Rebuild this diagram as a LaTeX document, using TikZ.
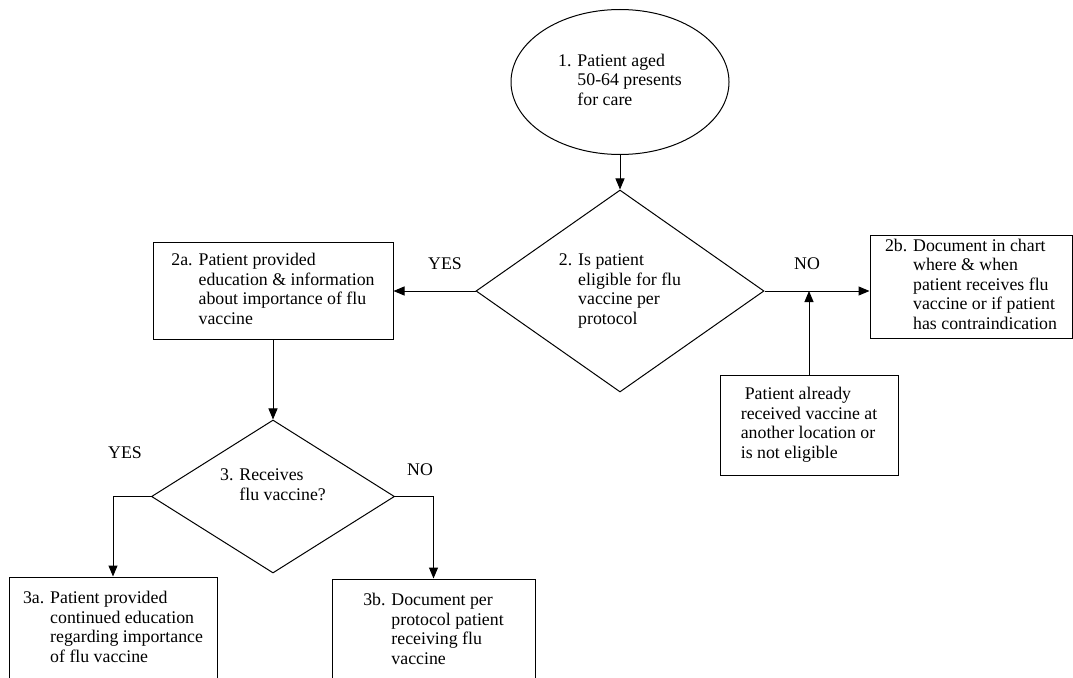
\documentclass[tikz,border=0pt]{standalone}
\usepackage{fontspec}
\setmainfont{Liberation Serif}
\usetikzlibrary{arrows.meta, shapes.geometric}

% numbered text: number in its own column, hanging lines after it
\newcommand{\numbered}[2]{\begin{tabular}{@{}l@{ }l@{}}#1&\begin{tabular}[t]{@{}l@{}}#2\end{tabular}\end{tabular}}

\begin{document}
\begin{tikzpicture}[
            x=1pt, y=-1pt,
            font=\fontsize{17.8}{19.5}\selectfont,
            every node/.style={inner sep=0pt},
            box/.style={draw, line width=1pt, rectangle, align=center},
            start/.style={draw, line width=1pt, ellipse, minimum width=218pt, minimum height=145pt},
            decide/.style={draw, line width=1pt, diamond},
            flow/.style={line width=1pt, arrows=-{Triangle[length=11pt, width=9pt]}},
            lbl/.style={font=\fontsize{17.8}{19.5}\selectfont}
        ]

        \useasboundingbox (0,0) rectangle (1073,677);

        \node[start] (begin) at (620,82) {\numbered{1.}{Patient aged\\50-64 presents\\for care}};
        \node[decide, minimum width=288pt, minimum height=202pt, aspect=1.43] (elig) at (620,291)
            {\numbered{2.}{Is patient\\eligible for flu\\vaccine per\\protocol\rule[-6pt]{0pt}{0pt}}};
        \node[box, minimum width=240pt, minimum height=97pt] (edu) at (273,291)
            {\numbered{2a.}{Patient provided\\education \& information\\about importance of flu\\vaccine}};
        \node[box, minimum width=202pt, minimum height=103pt] (chart) at (971,286.5)
            {\numbered{2b.}{Document in chart\\where \& when\\patient receives flu\\vaccine or if patient\\has contraindication}};
        \node[box, minimum width=178pt, minimum height=100pt] (prior) at (809,425)
            {\begin{tabular}{@{}l@{}}\hspace{4pt}Patient already\\received vaccine at\\another location or\\is not eligible\end{tabular}};
        \node[decide, minimum width=243pt, minimum height=153pt, aspect=1.59] (recv) at (273,496.5)
            {\numbered{3.}{Receives\\flu vaccine?\\ \mbox{}}};
        \node[box, minimum width=208pt, minimum height=104pt] (contedu) at (113,629)
            {\numbered{3a.}{Patient provided\\continued education\\regarding importance\\of flu vaccine}};
        \node[box, minimum width=203pt, minimum height=104pt] (docvac) at (433.5,631)
            {\numbered{3b.}{Document per\\protocol patient\\receiving flu\\vaccine}};

        \coordinate (join) at (prior.north |- elig.east);

        \draw[flow] (begin) -- (elig);
        \draw[flow] (elig.west) -- (edu.east);
        \draw[flow] (elig.east) -- (elig.east -| chart.west);
        \draw[flow] (prior.north) -- (join);
        \draw[flow] (edu) -- (recv);
        \draw[flow] (recv.west) -| (contedu.north);
        \draw[flow] (recv.east) -| (docvac.north);

        \node[lbl] (yesa) at (445,264) {YES};
        \node[lbl] (noa) at (807,264) {NO};
        \node[lbl] (yesb) at (125,453) {YES};
        \node[lbl] (nob) at (420,470) {NO};
    \end{tikzpicture}
\end{document}
